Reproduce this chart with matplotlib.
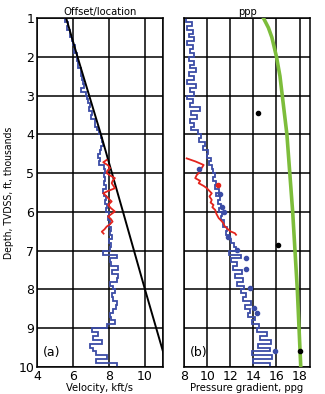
import numpy as np
import matplotlib
matplotlib.use("Agg")
import matplotlib.pyplot as plt

# depth sampling of the step logs, thousands of ft
log_depths = np.linspace(1.0, 10.0, 91)

# (a) interval velocity log, kft/s
vel_log = [
    5.55, 5.75, 5.68, 5.85, 5.82, 5.95, 6.00, 6.12, 6.05, 6.20,
    6.25, 6.30, 6.28, 6.45, 6.42, 6.50, 6.55, 6.60, 6.45, 6.75,
    6.80, 6.85, 6.95, 6.88, 7.05, 7.00, 7.20, 7.25, 7.35, 7.42,
    7.55, 7.60, 7.65, 7.55, 7.50, 7.40, 7.50, 7.45, 7.70, 7.80,
    7.70, 7.80, 7.72, 7.85, 7.65, 7.70, 7.85, 7.80, 7.90, 7.85,
    8.00, 7.95, 8.05, 8.00, 8.10, 8.05, 8.15, 8.00, 8.10, 8.05,
    7.68, 8.43, 8.05, 8.10, 8.50, 8.15, 8.50, 8.45, 8.05, 8.25,
    8.35, 8.15, 8.20, 8.43, 8.40, 8.25, 8.05, 8.10, 8.35, 7.87,
    7.04, 7.40, 7.13, 7.60, 6.95, 7.10, 7.30, 7.87, 7.30, 8.43,
]
# normal compaction trend
trend_depth = [1.0, 2.0, 4.0, 6.0, 8.0, 9.6, 10.0]
trend_vel = [5.62, 6.25, 7.55, 8.78, 10.0, 11.0, 11.25]
# seismic velocities
seis_depth = [4.66, 4.72, 4.80, 4.87, 4.94, 5.00, 5.07, 5.13, 5.20, 5.26, 5.33, 5.39,
              5.46, 5.52, 5.60, 5.67, 5.73, 5.82, 5.90, 5.99, 6.05, 6.12, 6.18,
              6.25, 6.32, 6.38, 6.45, 6.51, 6.56]
seis_vel = [7.87, 7.68, 7.95, 8.06, 7.90, 7.87, 8.10, 8.33, 8.20, 8.15, 8.25, 8.33,
            7.95, 7.68, 7.87, 8.00, 8.15, 7.95, 8.10, 8.33, 8.15, 7.95, 8.10,
            8.20, 8.05, 7.87, 7.75, 7.60, 7.70]

# (b) pore pressure log, ppg
pp_log = [
    8.2, 8.7, 8.3, 8.8, 8.4, 8.9, 8.3, 8.8, 8.5, 8.9,
    8.4, 8.9, 8.5, 9.0, 8.4, 8.9, 8.3, 9.0, 8.5, 8.9,
    8.3, 8.8, 8.5, 9.4, 8.6, 9.1, 8.5, 8.9, 8.6, 9.2,
    9.5, 9.3, 9.8, 9.6, 10.1, 10.0, 10.3, 10.2, 10.4, 10.5,
    10.7, 10.5, 10.8, 10.7, 11.0, 10.8, 11.1, 10.9, 11.2, 11.0,
    11.3, 11.2, 11.5, 11.4, 11.7, 11.6, 11.9, 12.1, 12.3, 12.5,
    11.9, 12.9, 12.1, 12.6, 12.2, 13.0, 12.4, 13.1, 12.6, 13.2,
    12.9, 13.4, 13.1, 13.8, 13.3, 13.7, 13.5, 14.1, 13.9, 14.5,
    14.3, 15.2, 14.6, 15.5, 14.4, 15.4, 13.9, 15.6, 14.0, 15.4,
]
seis_pp_depth = [4.62, 4.70, 4.79, 4.88, 4.96, 5.05, 5.13, 5.20, 5.26, 5.33, 5.39,
                 5.46, 5.52, 5.60, 5.69, 5.76, 5.82, 5.88, 5.95, 6.05, 6.16,
                 6.22, 6.29, 6.36, 6.42, 6.50, 6.55, 6.59]
seis_pp = [8.23, 9.0, 9.7, 9.5, 9.4, 9.1, 8.97, 9.4, 9.27, 9.7, 9.98,
           10.2, 10.4, 10.2, 10.4, 10.3, 10.55, 10.45, 10.7, 10.8, 11.0,
           11.2, 11.4, 11.5, 11.7, 12.0, 12.4, 12.5]
meas_depth = [4.90, 5.55, 5.87, 6.00, 6.65, 6.97, 7.20, 7.47, 7.97, 8.47, 8.60, 9.58]
meas_pp = [9.3, 11.1, 11.3, 11.5, 11.8, 12.6, 13.4, 13.4, 13.7, 14.05, 14.35, 15.9]
red_pt_depth = [5.30]
red_pt_pp = [10.95]
frac_depth = [1.0, 1.25, 1.5, 2.0, 2.5, 3.0, 3.5, 4.0, 5.0, 6.0, 7.0, 8.0, 9.0, 10.0]
frac_grad = [14.87, 15.3, 15.6, 16.0, 16.3, 16.5, 16.7, 16.9, 17.15, 17.4, 17.6,
             17.8, 17.95, 18.1]
mw_depth = [3.44, 6.85, 9.58]
mw_grad = [14.4, 16.13, 18.03]

BLUE = "#3b4ca6"
RED = "#e3241d"
GREEN = "#7dbd3b"
NARROW = ["Liberation Sans Narrow", "DejaVu Sans"]

fig = plt.figure(figsize=(3.25, 3.94), dpi=100)
ax1 = fig.add_axes([0.1138, 0.0685, 0.3877, 0.8858])
ax2 = fig.add_axes([0.5662, 0.0685, 0.3877, 0.8858])

for ax in (ax1, ax2):
    ax.set_ylim(10, 1)
    ax.set_yticks(range(1, 11))
    ax.grid(True, color="black", linewidth=1.1, zorder=0)
    ax.set_axisbelow(True)
    for sp in ax.spines.values():
        sp.set_linewidth(1.1)
    ax.tick_params(length=0, pad=2, labelsize=9)

lab_kw = dict(fontsize=8, family=NARROW, stretch="condensed")

# (a) velocity
ax1.set_xlim(4, 11)
ax1.set_xticks([4, 6, 8, 10, 11])
ax1.set_xticklabels(["4", "6", "8", "10", ""])
ax1.plot(trend_vel, trend_depth, color="black", lw=1.4, zorder=3)
ax1.stairs(vel_log, log_depths, orientation="horizontal", baseline=None,
           color=BLUE, lw=1.3, zorder=2)
ax1.plot(seis_vel, seis_depth, color=RED, lw=1.3, zorder=4)
ax1.set_title("Offset/location", pad=2, **lab_kw)
ax1.set_xlabel("Velocity, kft/s", labelpad=0, **lab_kw)
ax1.set_ylabel("Depth, TVDSS, ft, thousands", labelpad=3,
               fontsize=7.5, family=NARROW, stretch="condensed")
ax1.text(4.35, 9.62, "(a)", fontsize=9, va="center")

# (b) pressure gradient
ax2.set_xlim(8, 18.9)
ax2.set_xticks([8, 10, 12, 14, 16, 18])
ax2.set_yticklabels([])
ax2.stairs(pp_log, log_depths, orientation="horizontal", baseline=None,
           color=BLUE, lw=1.3, zorder=2)
ax2.plot(frac_grad, frac_depth, color=GREEN, lw=2.6, zorder=3)
ax2.plot(seis_pp, seis_pp_depth, color=RED, lw=1.3, zorder=4)
ax2.plot(meas_pp, meas_depth, "o", color=BLUE, ms=3, zorder=5)
ax2.plot(red_pt_pp, red_pt_depth, "o", color=RED, ms=3, zorder=5)
ax2.plot(mw_grad, mw_depth, "o", color="black", ms=3, zorder=5)
ax2.set_title("ppp", pad=2, **lab_kw)
ax2.set_xlabel("Pressure gradient, ppg", labelpad=0, **lab_kw)
ax2.text(8.55, 9.62, "(b)", fontsize=9, va="center")

fig.savefig("out.png", dpi=100)
